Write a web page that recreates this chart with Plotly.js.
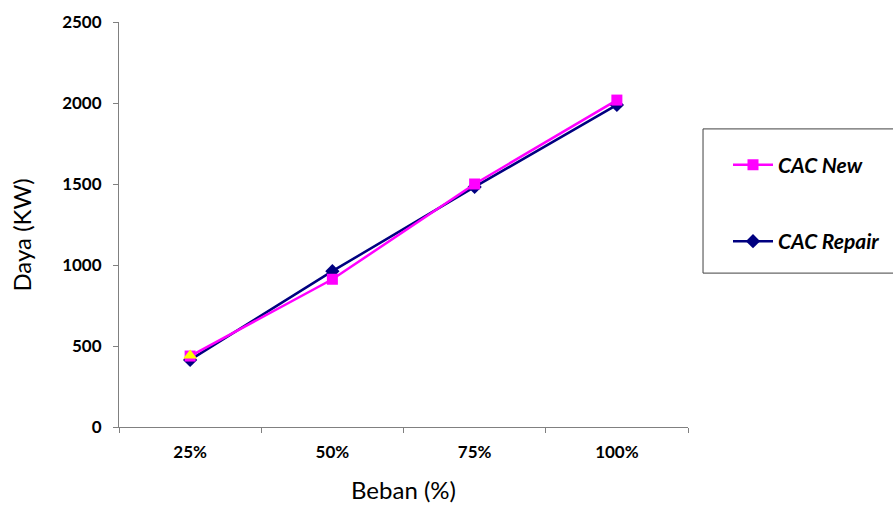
<!DOCTYPE html>
<html>
<head>
<meta charset="utf-8">
<script src="https://cdn.plot.ly/plotly-3.0.1.min.js"></script>
<style>html,body{margin:0;padding:0;background:#fff;}#chart{width:893px;height:506px;}</style>
</head>
<body>
<div id="chart"></div>
<script>
const categories = ["25%", "50%", "75%", "100%"];
const cacNew = [438, 912, 1500, 2018];
const cacRepair = [414, 962, 1482, 1988];
const extraCategory = ["25%"];
const extraValue = [442];
const yTicks = [0, 500, 1000, 1500, 2000, 2500];
const yTitle = "Daya (KW)";
const xTitle = "Beban (%)";

const FONT = "Lato, 'Open Sans', sans-serif";

const traces = [
  {
    x: categories, y: cacRepair, name: "CAC Repair", type: "scatter", mode: "lines+markers",
    line: {color: "#000080", width: 2.5},
    marker: {symbol: "diamond", size: 11, color: "#000080"},
    legendrank: 2, legendgroup: "b"
  },
  {
    x: categories, y: cacNew, name: "CAC New", type: "scatter", mode: "lines+markers",
    line: {color: "#FF00FF", width: 2.5},
    marker: {symbol: "square", size: 11, color: "#FF00FF"},
    legendrank: 1, legendgroup: "a"
  },
  {
    x: extraCategory, y: extraValue, name: "", type: "scatter", mode: "markers",
    marker: {symbol: "triangle-up", size: 12, color: "#FFFF00"},
    showlegend: false
  }
];

const layout = {
  width: 893, height: 506,
  margin: {l: 119, r: 205, t: 22, b: 79, autoexpand: false},
  paper_bgcolor: "#fff", plot_bgcolor: "#fff",
  font: {family: FONT, color: "#000"},
  xaxis: {
    type: "category", categoryorder: "array", categoryarray: categories,
    range: [-0.5, 3.5],
    tickson: "boundaries", ticks: "outside", ticklen: 5, tickcolor: "#808080",
    ticklabelstandoff: 10,
    showline: true, linecolor: "#808080", linewidth: 1,
    showgrid: false, zeroline: false,
    tickfont: {size: 17, family: FONT, weight: "bold"},
    title: {text: xTitle, font: {size: 24, family: FONT}, standoff: 20}
  },
  yaxis: {
    range: [0, 2500], tickvals: yTicks, ticks: "outside", ticklen: 5, tickcolor: "#808080",
    ticklabelstandoff: 8,
    showline: true, linecolor: "#808080", linewidth: 1,
    showgrid: false, zeroline: false,
    tickfont: {size: 17, family: FONT, weight: "bold"}
  },
  annotations: [{
    text: yTitle, xref: "paper", yref: "paper", x: -0.1705, y: 0.475,
    xanchor: "center", yanchor: "middle", textangle: -90, showarrow: false,
    font: {size: 24, family: FONT, color: "#000"}
  }],
  shapes: [{
    type: "rect", xref: "paper", yref: "paper",
    x0: 1.0264, x1: 1.40, y0: 0.380, y1: 0.736,
    line: {color: "#404040", width: 1}, fillcolor: "rgba(0,0,0,0)"
  }],
  showlegend: true,
  legend: {
    x: 1.0703, y: 0.697, xanchor: "left", yanchor: "top",
    borderwidth: 0, bgcolor: "rgba(0,0,0,0)",
    font: {size: 21, family: FONT, weight: "bold", style: "italic"},
    traceorder: "grouped", tracegroupgap: 46,
    itemwidth: 40
  }
};

Plotly.newPlot("chart", traces, layout, {displayModeBar: false, staticPlot: true});
</script>
</body>
</html>
